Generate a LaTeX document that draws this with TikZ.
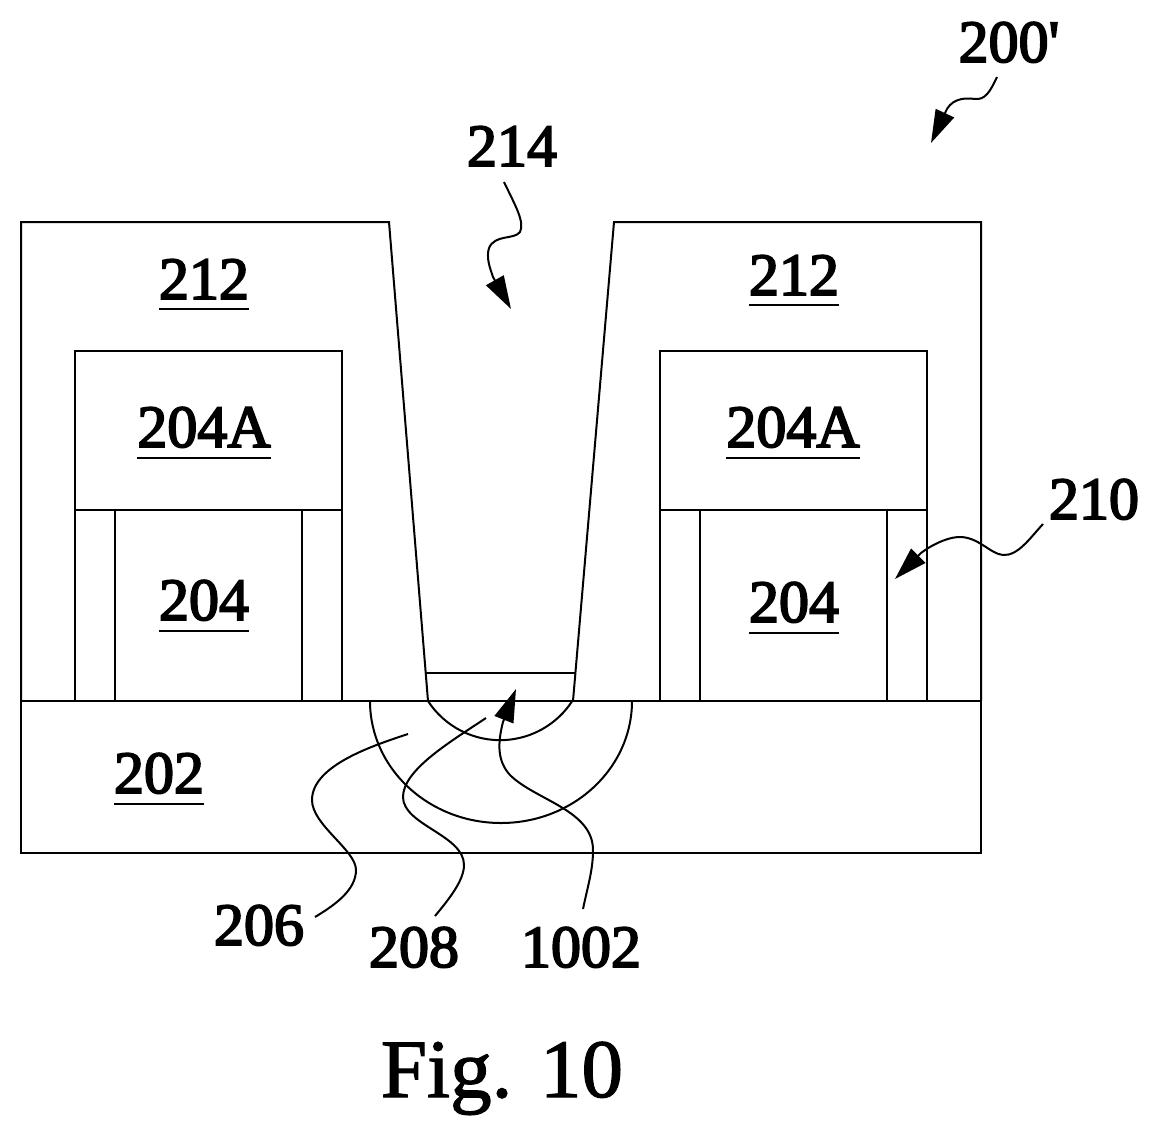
\documentclass[tikz,border=0pt]{standalone}
\usepackage{fontspec}
\setmainfont{Liberation Serif}
\newfontfamily\lblfont[FakeBold=3]{Liberation Serif}
\newfontfamily\capfont[FakeBold=1.5]{Liberation Serif}
\usetikzlibrary{arrows.meta}

\newcommand{\ulbl}[1]{\vtop{\hbox{#1}\kern 9pt\hrule height 2pt}}

\tikzset{
    part/.style={draw, line width=2pt, line join=miter},
    leader/.style={line width=2pt},
    leadtip/.style={leader, -{Triangle[length=33pt, width=20pt]}},
    lbl/.style={font=\fontsize{60}{60}\lblfont, inner sep=0pt, anchor=base}
}

\begin{document}
\begin{tikzpicture}[x=1pt, y=-1pt]
    \useasboundingbox (0, 0) rectangle (1157, 1136);

    % Substrate
    \draw[part] (21, 701) rectangle (981, 853);

    % Dielectric on both sides of the opening
    \draw[part] (21, 701) -- (21, 222) -- (389, 222) -- (428, 701);
    \draw[part] (981, 701) -- (981, 222) -- (614, 222) -- (573, 701);

    % Left gate stack
    \draw[part] (75, 351) rectangle (342, 510);
    \draw[part] (75, 510) rectangle (115, 701);
    \draw[part] (115, 510) rectangle (302, 701);
    \draw[part] (302, 510) rectangle (342, 701);

    % Right gate stack
    \draw[part] (660, 351) rectangle (927, 510);
    \draw[part] (660, 510) rectangle (700, 701);
    \draw[part] (700, 510) rectangle (887, 701);
    \draw[part] (887, 510) rectangle (927, 701);

    % Layer at the bottom of the opening
    \draw[part] (426, 673) -- (576, 673);

    % Regions in the substrate
    \draw[part] (370, 701) arc[start angle=180, end angle=0, x radius=131, y radius=122];
    \draw[part] (428, 701) arc[start angle=147, end angle=33, radius=86];

    % Underlined labels
    \node[lbl] (lbl212l) at (204, 299) {\ulbl{212}};
    \node[lbl] (lbl212r) at (794, 295) {\ulbl{212}};
    \node[lbl] (lbl204Al) at (204, 447) {\ulbl{204A}};
    \node[lbl] (lbl204Ar) at (793, 447) {\ulbl{204A}};
    \node[lbl] (lbl204l) at (204, 620) {\ulbl{204}};
    \node[lbl] (lbl204r) at (794, 622) {\ulbl{204}};
    \node[lbl] (lbl202) at (159, 793) {\ulbl{202}};

    % Reference numerals
    \node[lbl] (lbl200) at (1009, 62) {200'};
    \node[lbl] (lbl214) at (512, 166) {214};
    \node[lbl] (lbl210) at (1094, 519) {210};
    \node[lbl] (lbl206) at (259, 945) {206};
    \node[lbl] (lbl208) at (414, 967) {208};
    \node[lbl] (lbl1002) at (581, 967) {1002};
    \node[lbl, font=\fontsize{83}{83}\capfont] (figcap) at (502, 1097) {Fig. 10};

    % Leader ends
    \coordinate (from200) at (997, 77);
    \coordinate (to200) at (931, 143);
    \coordinate (from214) at (504, 182);
    \coordinate (to214) at (511, 309);
    \coordinate (from210) at (1043, 524);
    \coordinate (to210) at (895, 579);
    \coordinate (from206) at (315, 917);
    \coordinate (to206) at (408, 734);
    \coordinate (from208) at (435, 916);
    \coordinate (to208) at (486, 718);
    \coordinate (from1002) at (583, 909);
    \coordinate (to1002) at (516, 689);

    % Leaders
    \draw[leadtip] (from200) .. controls (990, 92) and (985, 100) .. (975, 99)
        .. controls (962, 97) and (950, 100) .. (945, 113) -- (to200);
    \draw[leadtip] (from214) .. controls (515, 205) and (525, 222) .. (520, 232)
        .. controls (514, 240) and (495, 234) .. (489, 248)
        .. controls (486, 258) and (490, 268) .. (493, 277) -- (to214);
    \draw[leadtip] (from210) .. controls (1030, 538) and (1018, 556) .. (1003, 555)
        .. controls (990, 554) and (978, 536) .. (958, 537)
        .. controls (945, 538) and (930, 546) .. (921, 553) -- (to210);
    \draw[leader] (from206) .. controls (335, 905) and (356, 890) .. (356, 870)
        .. controls (356, 850) and (312, 825) .. (312, 800)
        .. controls (312, 765) and (375, 745) .. (to206);
    \draw[leader] (from208) .. controls (450, 898) and (464, 880) .. (464, 865)
        .. controls (464, 835) and (403, 825) .. (403, 797)
        .. controls (403, 770) and (450, 742) .. (to208);
    \draw[leadtip] (from1002) .. controls (588, 885) and (593, 870) .. (593, 850)
        .. controls (593, 810) and (535, 800) .. (510, 775)
        .. controls (498, 762) and (497, 745) .. (503, 722) -- (to1002);

\end{tikzpicture}
\end{document}
